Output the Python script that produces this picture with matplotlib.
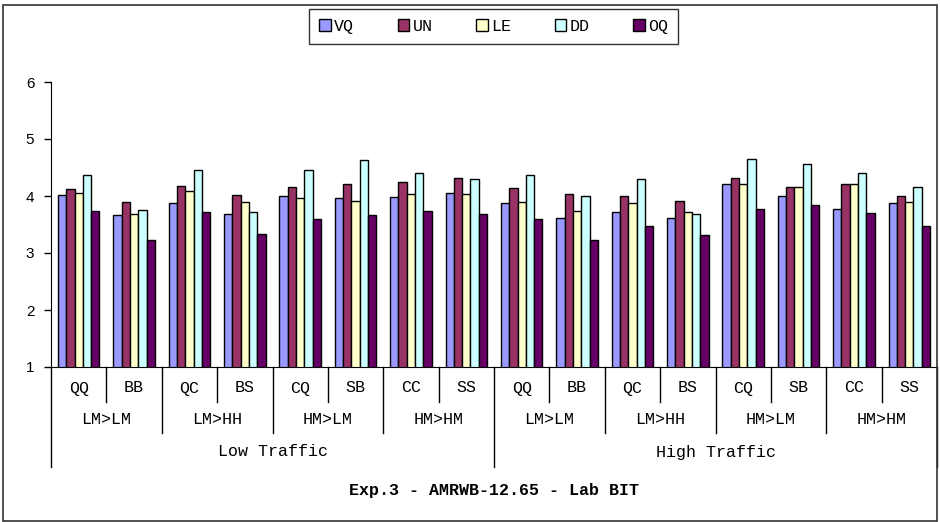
import matplotlib
matplotlib.use("Agg")
import matplotlib.pyplot as plt
import numpy as np
from matplotlib.patches import Rectangle, Patch

# sub-categories, path types and traffic load
cats = ["QQ", "BB", "QC", "BS", "CQ", "SB", "CC", "SS"] * 2
paths = ["LM>LM", "LM>HH", "HM>LM", "HM>HM"] * 2
loads = ["Low Traffic", "High Traffic"]

series = ["VQ", "UN", "LE", "DD", "OQ"]
VQ = [4.02, 3.66, 3.87, 3.69, 4.00, 3.97, 3.99, 4.06, 3.88, 3.61, 3.72, 3.61, 4.21, 4.00, 3.77, 3.87]
UN = [4.13, 3.90, 4.18, 4.02, 4.16, 4.21, 4.24, 4.32, 4.14, 4.03, 4.00, 3.92, 4.31, 4.16, 4.21, 4.00]
LE = [4.05, 3.69, 4.08, 3.90, 3.97, 3.92, 4.03, 4.03, 3.90, 3.74, 3.87, 3.72, 4.21, 4.16, 4.21, 3.90]
DD = [4.37, 3.76, 4.45, 3.72, 4.45, 4.63, 4.40, 4.29, 4.37, 4.00, 4.29, 3.69, 4.65, 4.57, 4.40, 4.16]
OQ = [3.74, 3.22, 3.72, 3.33, 3.59, 3.66, 3.74, 3.69, 3.59, 3.22, 3.48, 3.31, 3.77, 3.85, 3.70, 3.48]
values = [VQ, UN, LE, DD, OQ]
colors = ["#9999FF", "#993366", "#FFFFCC", "#CCFFFF", "#660066"]

mono = "Liberation Mono"
W, H = 940, 522
fig = plt.figure(figsize=(W / 100, H / 100), dpi=100)

# plot area in pixels
x0, x1 = 51, 937
ytop, ybot = 82, 367
ax = fig.add_axes([x0 / W, 1 - ybot / H, (x1 - x0) / W, (ybot - ytop) / H])

x = np.arange(len(cats))
bw = 0.15
for i, (vals, c) in enumerate(zip(values, colors)):
    ax.bar(x + (i - 2) * bw, vals, width=bw, color=c, edgecolor="black", linewidth=1.0)

ax.set_xlim(-0.5, len(cats) - 0.5)
ax.set_ylim(1, 6)
ax.set_yticks([1, 2, 3, 4, 5, 6])
ax.tick_params(axis="y", direction="out", length=5, width=1, labelsize=11, pad=7)
for t in ax.get_yticklabels():
    t.set_fontfamily("Liberation Sans")
ax.set_xticks([])
ax.spines["top"].set_visible(False)
ax.spines["right"].set_visible(False)

# multi-level category axis below the plot
ph = ybot - ytop
def ay(ypix):
    return (ybot - ypix) / ph

tr = ax.get_xaxis_transform()
for b in range(len(cats) + 1):
    if b % 8 == 0:
        end = 467
    elif b % 2 == 0:
        end = 433
    else:
        end = 402
    ax.plot([b - 0.5, b - 0.5], [0, ay(end)], color="black", lw=1, transform=tr, clip_on=False)

for i, c in enumerate(cats):
    ax.text(i, ay(388), c, ha="center", va="center", fontsize=12, family=mono, transform=tr)
for j, p in enumerate(paths):
    ax.text(2 * j + 0.5, ay(419), p, ha="center", va="center", fontsize=12, family=mono, transform=tr)
for k, l in enumerate(loads):
    ax.text(8 * k + 3.5, ay(452), l, ha="center", va="center", fontsize=12, family=mono, transform=tr)

ax.text(7.5, ay(490), "Exp.3 - AMRWB-12.65 - Lab BIT", ha="center", va="center",
        fontsize=12, family=mono, fontweight="bold", transform=tr)

# legend stretched over a fixed box
handles = [Patch(facecolor=c, edgecolor="black", linewidth=1) for c in colors]
leg = fig.legend(handles, series, loc="lower left", mode="expand",
                 bbox_to_anchor=(309 / W, 1 - 44 / H, 369 / W, 33 / H),
                 ncol=5, frameon=True, fancybox=False, edgecolor="black",
                 prop={"family": mono, "size": 12}, handlelength=0.7, handleheight=0.7,
                 handletextpad=0.2, borderpad=0.6, borderaxespad=0)
leg.get_frame().set_linewidth(1)

# outer chart frame
fig.patches.append(Rectangle((3 / W, 1 / H), 934 / W, 516 / H, transform=fig.transFigure,
                             fill=False, edgecolor="#333333", linewidth=1.2))

fig.savefig("out.png", dpi=100)
